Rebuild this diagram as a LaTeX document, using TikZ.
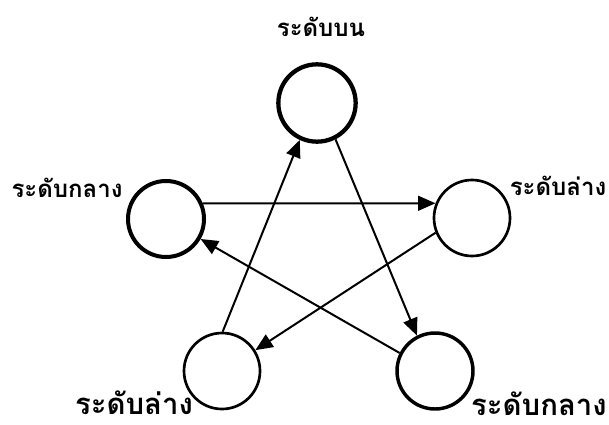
\documentclass[tikz,border=0pt]{standalone}
\usepackage{fontspec}
\newfontfamily\thaifont[Script=Thai]{Loma}
\usetikzlibrary{arrows.meta}

\tikzset{
  lvl/.style={circle, draw, minimum size=57pt, inner sep=0pt},
  lbl/.style={font=\thaifont\bfseries\fontsize{18}{21}\selectfont, inner sep=0pt, text depth=0pt, anchor=base},
  lblbig/.style={lbl, font=\thaifont\bfseries\fontsize{22}{25}\selectfont},
}

\begin{document}
\begin{tikzpicture}[>={Triangle[length=13pt, width=11pt]}, x=0.75pt, y=-0.75pt]
  \useasboundingbox (0,0) rectangle (609,424);
  \node[lvl, line width=3.2pt, minimum size=58pt] (up)   at (317,103) {};
  \node[lvl, line width=3pt]   (mid1) at (166,219) {};
  \node[lvl, line width=2pt]   (low1) at (472,218) {};
  \node[lvl, line width=2pt]   (low2) at (222,371) {};
  \node[lvl, line width=2.6pt] (mid2) at (435,371) {};
  \node[lbl]    (Lup)   at (321,37)  {ระดับบน};
  \node[lbl]    (Lmid1) at (67,197)  {ระดับกลาง};
  \node[lbl]    (Llow1) at (558,195) {ระดับล่าง};
  \node[lblbig] (Llow2) at (134,414) {ระดับล่าง};
  \node[lblbig] (Lmid2) at (539,415) {ระดับกลาง};
  \draw[->, line width=1.5pt] (up.-63) -- (mid2.117);
  \draw[->, line width=1.5pt] (low2.89) -- (up.-115);
  \draw[->, line width=1.5pt] (mid1.23) -- (low1.158);
  \draw[->, line width=1.5pt] (low1.202) -- (low2.32);
  \draw[->, line width=1.5pt] (mid2.153) -- (mid1.-30);
\end{tikzpicture}
\end{document}
